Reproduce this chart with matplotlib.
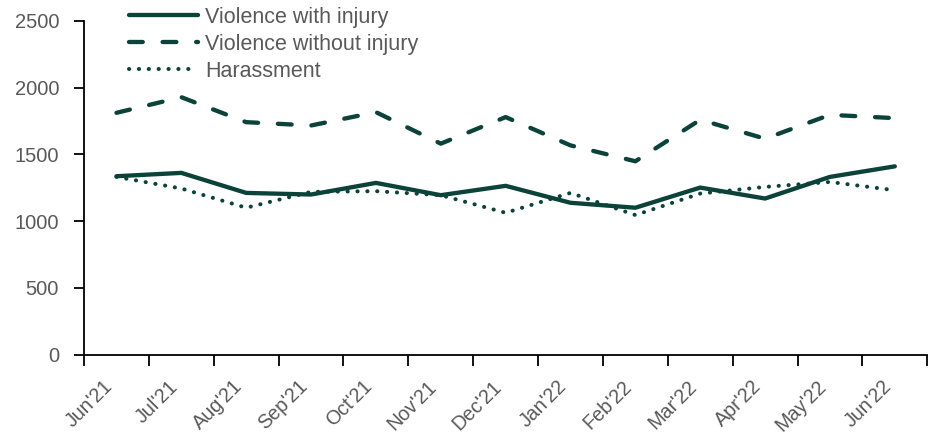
import matplotlib.pyplot as plt
import matplotlib.transforms as mtransforms
import numpy as np

plt.rcParams['font.family'] = ['Liberation Sans', 'DejaVu Sans']

months = ["Jun'21", "Jul'21", "Aug'21", "Sep'21", "Oct'21", "Nov'21", "Dec'21",
          "Jan'22", "Feb'22", "Mar'22", "Apr'22", "May'22", "Jun'22"]
with_injury = [1336, 1361, 1211, 1199, 1286, 1194, 1264, 1137, 1100, 1251, 1169, 1331, 1410]
without_injury = [1811, 1928, 1741, 1716, 1816, 1580, 1779, 1567, 1448, 1759, 1617, 1796, 1771]
harassment = [1331, 1244, 1100, 1219, 1224, 1194, 1062, 1211, 1045, 1206, 1256, 1293, 1231]

GREEN = "#0B4239"
GREY = "#595959"

fig = plt.figure(figsize=(9.39, 4.34), dpi=100)
ax = fig.add_axes([0.0895, 0.183, 0.898, 0.769])

x = np.arange(len(months))
ax.plot(x, with_injury, color=GREEN, lw=3.1, solid_capstyle='round',
        label="Violence with injury")
ax.plot(x, without_injury, color=GREEN, lw=3.1, dashes=(3.2, 4.6),
        dash_capstyle='round', label="Violence without injury")
ax.plot(x, harassment, color=GREEN, lw=2.9, linestyle=(0, (0.05, 2.4)),
        dash_capstyle='round', label="Harassment")

ax.set_xlim(-0.5, len(months) - 0.5)
ax.set_ylim(0, 2500)
ax.set_yticks(np.arange(0, 2501, 500))

# category ticks sit between months, labels at the centre
ax.set_xticks(np.arange(-0.5, len(months), 1.0))
ax.set_xticklabels([])
ax.set_xticks(x, minor=True)
ax.set_xticklabels(months, minor=True, rotation=45, ha='right',
                   fontsize=14.2, color=GREY)
shift = mtransforms.ScaledTranslation(5 / 100, 0, fig.dpi_scale_trans)
for lab in ax.get_xticklabels(minor=True):
    lab.set_transform(lab.get_transform() + shift)
ax.tick_params(axis='x', which='minor', length=0, pad=16)
ax.tick_params(axis='x', which='major', length=8, width=1.3, color='black')
ax.tick_params(axis='y', length=7, width=1.3, pad=11, labelsize=14.5,
               labelcolor=GREY)

for s in ['top', 'right']:
    ax.spines[s].set_visible(False)
for s in ['left', 'bottom']:
    ax.spines[s].set_linewidth(1.3)

leg = ax.legend(loc='upper left', bbox_to_anchor=(0.1374, 0.984),
                bbox_transform=fig.transFigure, frameon=False, fontsize=15.5,
                handlelength=3.2, handletextpad=0.35, labelspacing=0.27,
                borderaxespad=0, borderpad=0)
for t in leg.get_texts():
    t.set_color(GREY)

fig.savefig("out.png", dpi=100)
